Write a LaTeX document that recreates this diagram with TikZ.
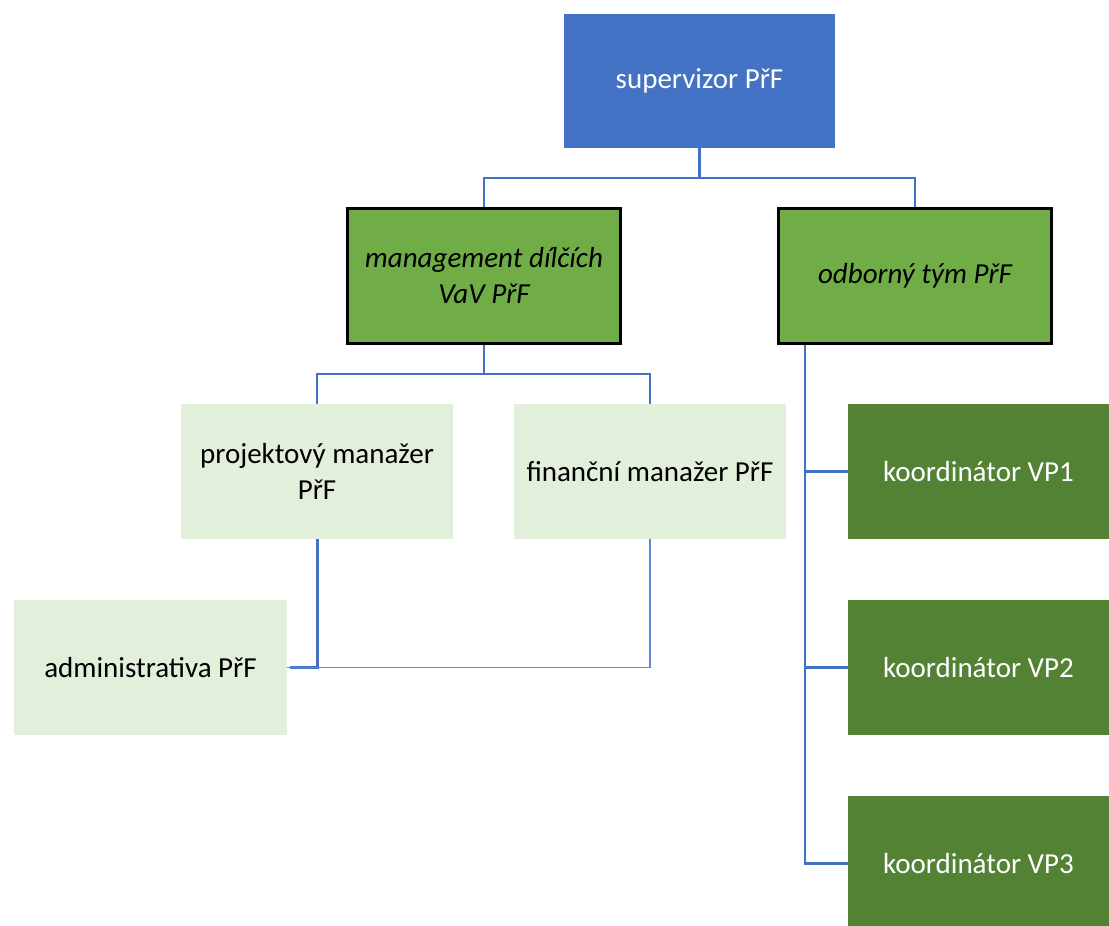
\documentclass[tikz,border=0pt]{standalone}
\usepackage{fontspec}
\setmainfont{Carlito}
\definecolor{supblue}{HTML}{4472C4}
\definecolor{midgreen}{HTML}{70AD47}
\definecolor{palegreen}{HTML}{E2EFDA}
\definecolor{darkgreen}{HTML}{548235}
\definecolor{linkblue}{HTML}{4472C4}
\begin{document}
\begin{tikzpicture}[x=1pt,y=-1pt,
  box/.style={rectangle, inner sep=0pt, align=center, font=\fontsize{29}{36}\selectfont},
  supbox/.style={box, fill=supblue, text=white, minimum width=271pt, minimum height=134pt},
  midbox/.style={box, fill=midgreen, draw=black, line width=2.6pt, minimum width=273pt, minimum height=135pt, font=\fontsize{29}{36}\selectfont\itshape},
  palebox/.style={box, fill=palegreen, text=black, minimum width=272pt, minimum height=135pt},
  darkbox/.style={box, fill=darkgreen, text=white, minimum width=261pt, minimum height=135pt},
  link/.style={draw=linkblue, line width=2.4pt},
  thinlink/.style={draw=linkblue!85, line width=1.4pt}
]
\useasboundingbox (0,0) rectangle (1109,926);
\clip (0,0) rectangle (1109,926);
\fill[white] (0,0) rectangle (1109,926);

\node[supbox] (sup) at (699.5,81) {supervizor PřF};
\node[midbox] (mgmt) at (484,276) {management dílčích\\VaV PřF};
\node[midbox] (odb) at (915,276) {odborný tým PřF};
\node[palebox] (proj) at (317,471.5) {projektový manažer\\PřF};
\node[palebox] (fin) at (650,471.5) {finanční manažer PřF};
\node[palebox, minimum width=273pt] (adm) at (150.5,667.5) {administrativa PřF};
\node[darkbox] (k1) at (978.5,471.5) {koordinátor VP1};
\node[darkbox] (k2) at (978.5,667.5) {koordinátor VP2};
\node[darkbox] (k3) at (978.5,863.5) {koordinátor VP3};

\draw[link] (sup.south) -- ++(0,30) -| (mgmt.north);
\draw[link] (sup.south) -- ++(0,30) -| (odb.north);
\draw[link] (mgmt.south) -- ++(0,29) -| (proj.north);
\draw[link] (mgmt.south) -- ++(0,29) -| (fin.north);

\coordinate (t) at ([xshift=28pt]odb.south west);
\draw[link] (t) |- (k1.west);
\draw[link] (t) |- (k2.west);
\draw[link] (t) |- (k3.west);

\draw[link, line width=3pt] (proj.south) |- ([xshift=3pt]adm.east);
\draw[thinlink] (fin.south) |- (adm.east);
\end{tikzpicture}
\end{document}
